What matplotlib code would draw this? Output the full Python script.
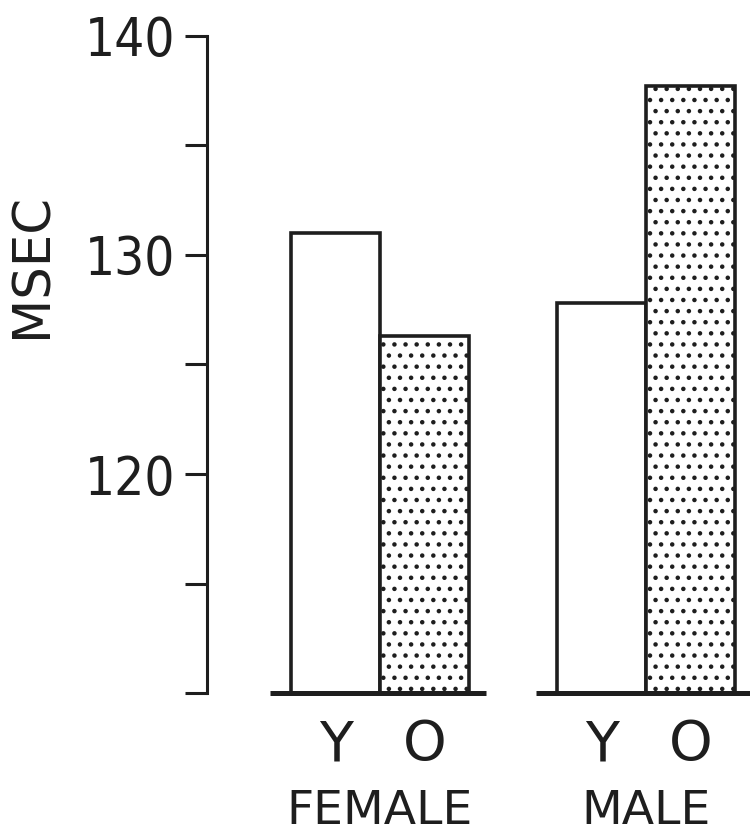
import numpy as np
import matplotlib
matplotlib.use("Agg")
import matplotlib.pyplot as plt
from matplotlib.transforms import blended_transform_factory

# values (msec)
groups = ["FEMALE", "MALE"]
group_pos = [0.0, 3.0]
young = [131.0, 127.8]
old = [126.3, 137.7]
bar_labels = ["Y", "O"]
ytick_vals = [110, 115, 120, 125, 130, 135, 140]
ytick_text = ["", "", "120", "", "130", "", "140"]

plt.rcParams["hatch.linewidth"] = 0.8
plt.rcParams["hatch.color"] = "#222222"

ink = "#1e1e1e"
base = 110

def main():
    fig = plt.figure(figsize=(3.75, 4.175), dpi=200)
    ax = fig.add_axes([0.276, 0.170, 0.724, 0.787])

    x = np.array(group_pos)
    ax.bar(x - 0.5, np.array(young) - base, bottom=base, width=1.0,
           facecolor="white", edgecolor=ink, lw=1.3, zorder=2)
    ax.bar(x + 0.5, np.array(old) - base, bottom=base, width=1.0,
           facecolor="white", edgecolor=ink, lw=1.3, hatch="...", zorder=2)

    # separate baseline under each group
    ax.hlines([base] * len(x), x - 1.24, x + 1.2, color=ink, lw=1.8,
              clip_on=False, zorder=3)

    ax.set_xlim(-1.95, 4.17)
    ax.set_ylim(110, 140)

    for s in ["top", "right", "bottom"]:
        ax.spines[s].set_visible(False)
    ax.spines["left"].set_linewidth(1.1)
    ax.spines["left"].set_color(ink)

    ax.set_yticks(ytick_vals)
    ax.set_yticklabels(ytick_text, family="DejaVu Sans", stretch="condensed",
                       fontsize=19, color=ink)
    ax.tick_params(axis="y", length=8, width=1.1, color=ink, pad=3.5)

    xt = np.concatenate([x - 0.5, x + 0.5])
    ax.set_xticks(xt)
    ax.set_xticklabels([bar_labels[0]] * len(x) + [bar_labels[1]] * len(x),
                       fontsize=20, color=ink)
    ax.tick_params(axis="x", length=0, pad=9)

    tr = blended_transform_factory(ax.transData, ax.transAxes)
    for gx, name in zip(x, groups):
        ax.text(gx, -0.18, name, transform=tr, ha="center", va="center",
                fontsize=17, color=ink)

    ax.set_ylabel("MSEC", fontsize=18.5, color=ink)
    ax.yaxis.set_label_coords(-0.275, 0.65)

    fig.savefig("out.png", dpi=200, facecolor="white")

if __name__ == "__main__":
    main()
